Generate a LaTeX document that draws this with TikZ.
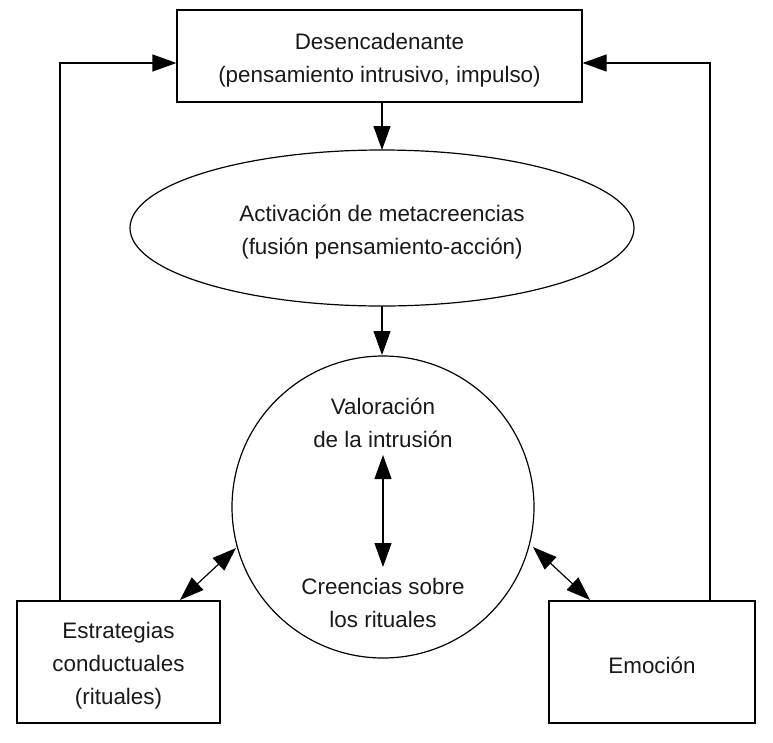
\documentclass[tikz,border=0pt]{standalone}
\usepackage{fontspec}
\setmainfont{Liberation Sans}
\usetikzlibrary{arrows.meta,shapes.geometric}
\begin{document}
\begin{tikzpicture}[x=1pt,y=-1pt,line width=1.2pt,
  arr/.style={-{Triangle[length=24pt,width=17pt]}},
  darr/.style={{Triangle[length=24pt,width=17pt]}-{Triangle[length=24pt,width=17pt]}},
  txt/.style={align=center,font=\fontsize{22.4}{33}\selectfont,text=black!90}]
\useasboundingbox (0,0) rectangle (773,742);
\node[draw,minimum width=405pt,minimum height=92pt] (top) at (379.5,56) {};
\node[txt] at (379.5,60) {Desencadenante\\(pensamiento intrusivo, impulso)};
\node[draw,ellipse,minimum width=504pt,minimum height=156pt] (ell) at (382,228) {};
\node[txt] at (382,232) {Activación de metacreencias\\(fusión pensamiento-acción)};
\node[draw,circle,minimum size=302pt] (c) at (383,507) {};
\node[txt] (v) at (383,423) {Valoración\\de la intrusión};
\node[txt] (cr) at (383,603) {Creencias sobre\\los rituales};
\node[draw,minimum width=203pt,minimum height=122pt] (l) at (118.5,662) {};
\node[txt] at (118.5,666) {Estrategias\\conductuales\\(rituales)};
\node[draw,minimum width=206pt,minimum height=122pt] (r) at (652,662) {};
\node[txt] at (652,665) {Emoción};
\coordinate (vb) at (383,455);
\coordinate (cb) at (383,567);
\draw[arr] (382,102) -- (382,150);
\draw[arr] (382,306) -- (382,355);
\draw[darr] (vb) -- (cb);
\draw[darr] (180,600) -- (236,548);
\draw[darr] (533,547) -- (590,600);
\draw[arr] (60,601) -- (60,63) -- (top.west |- 0,63);
\draw[arr] (710,601) -- (710,63) -- (top.east |- 0,63);
\end{tikzpicture}
\end{document}
